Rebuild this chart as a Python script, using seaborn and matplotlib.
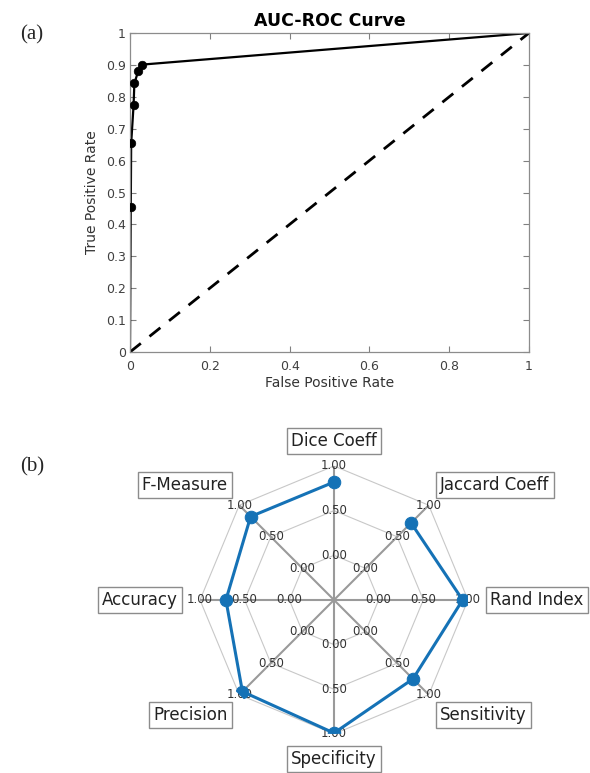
import numpy as np
import pandas as pd
import matplotlib
matplotlib.use("Agg")
import matplotlib.pyplot as plt
import seaborn as sns

# ROC curve values
fpr = [0.0, 0.002, 0.003, 0.009, 0.011, 0.021, 0.031, 1.0]
tpr = [0.0, 0.455, 0.655, 0.773, 0.842, 0.882, 0.901, 1.0]
marked = slice(1, 7)

# radar chart metrics, counter-clockwise from the top
metrics = ['Dice Coeff', 'F-Measure', 'Accuracy', 'Precision',
           'Specificity', 'Sensitivity', 'Rand Index', 'Jaccard Coeff']
scores = [0.82, 0.82, 0.71, 0.95, 0.99, 0.75, 0.94, 0.72]
ring_levels = [0.0, 0.5, 1.0]

sns.set_theme(style='white')
plt.rcParams['font.family'] = ['DejaVu Sans']

fig = plt.figure(figsize=(5.9, 7.73), dpi=100)

# ---------------- (a) ROC ----------------
ax1 = fig.add_axes([0.2203, 0.5446, 0.6763, 0.4127])
roc = pd.DataFrame({'fpr': fpr, 'tpr': tpr})
sns.lineplot(data=roc, x='fpr', y='tpr', sort=False, color='black',
             linewidth=1.6, ax=ax1)
sns.scatterplot(data=roc.iloc[marked], x='fpr', y='tpr', color='black',
                s=38, edgecolor='black', zorder=3, ax=ax1)
sns.lineplot(x=[0, 1], y=[0, 1], color='black', linestyle=(0, (5, 4)),
             linewidth=2, ax=ax1)
ax1.set_xlim(0, 1)
ax1.set_ylim(0, 1)
ax1.set_xticks(np.arange(0, 1.01, 0.2))
ax1.set_yticks(np.arange(0, 1.01, 0.1))
ax1.set_xticklabels(['0', '0.2', '0.4', '0.6', '0.8', '1'])
ax1.set_yticklabels(['0'] + ['%.1f' % v for v in np.arange(0.1, 0.95, 0.1)] + ['1'])
ax1.tick_params(direction='in', length=4, width=0.8, color='#808080',
                labelsize=9, labelcolor='#404040', top=True, right=True,
                bottom=True, left=True, pad=3)
ax1.tick_params(axis='x', pad=6)
for sp in ax1.spines.values():
    sp.set_color('#8c8c8c')
    sp.set_linewidth(0.9)
ax1.set_xlabel('False Positive Rate', fontsize=10, color='#333333', labelpad=2)
ax1.set_ylabel('True Positive Rate', fontsize=10, color='#333333', labelpad=5)
ax1.set_title('AUC-ROC Curve', fontsize=12.5, fontweight='bold', color='black',
              pad=5)

fig.text(0.034, 0.955, '(a)', family='Liberation Serif', fontsize=15,
         ha='left', va='center')
fig.text(0.034, 0.396, '(b)', family='Liberation Serif', fontsize=15,
         ha='left', va='center')

# ---------------- (b) radar ----------------
ax2 = fig.add_axes([0.339, 0.0505, 0.4542, 0.3467], projection='polar')
ax2.set_theta_offset(np.pi / 2)
ax2.set_ylim(-0.5, 1.0)
ax2.grid(False)
ax2.spines['polar'].set_visible(False)
ax2.set_xticks([])
ax2.set_yticks([])
ax2.set_facecolor('none')

angles = np.arange(len(metrics)) * 2 * np.pi / len(metrics)
closed = np.append(angles, angles[0])

for lv in ring_levels:
    ax2.plot(closed, [lv] * len(closed), color='#c8c8c8', linewidth=0.8, zorder=1)
for a in angles:
    ax2.plot([a, a], [-0.5, 1.0], color='#9a9a9a', linewidth=1.5, zorder=1)

radar = pd.DataFrame({'angle': closed, 'score': scores + scores[:1]})
sns.lineplot(data=radar, x='angle', y='score', sort=False, color='#1572b6',
             linewidth=2.2, marker='o', markersize=9, markeredgecolor='#1572b6',
             zorder=4, ax=ax2)
ax2.set_xlabel('')
ax2.set_ylabel('')

for a in angles:
    for lv in ring_levels:
        ax2.text(a, lv, '%.2f' % lv, ha='center', va='center', fontsize=8.5,
                 color='#333333', zorder=3)

for a, name in zip(angles, metrics):
    c, s = np.cos(a + np.pi / 2), np.sin(a + np.pi / 2)
    ha = 'center' if abs(c) < 0.1 else ('left' if c > 0 else 'right')
    va = 'center' if abs(s) < 0.1 else ('bottom' if s > 0 else 'top')
    r = 1.25 if va == 'center' else 1.18
    ax2.text(a, r, name, ha=ha, va=va, fontsize=12, color='#222222',
             bbox=dict(boxstyle='square,pad=0.25', facecolor='white',
                       edgecolor='#8c8c8c', linewidth=1.0), zorder=5)

fig.savefig('out.png', dpi=100)
